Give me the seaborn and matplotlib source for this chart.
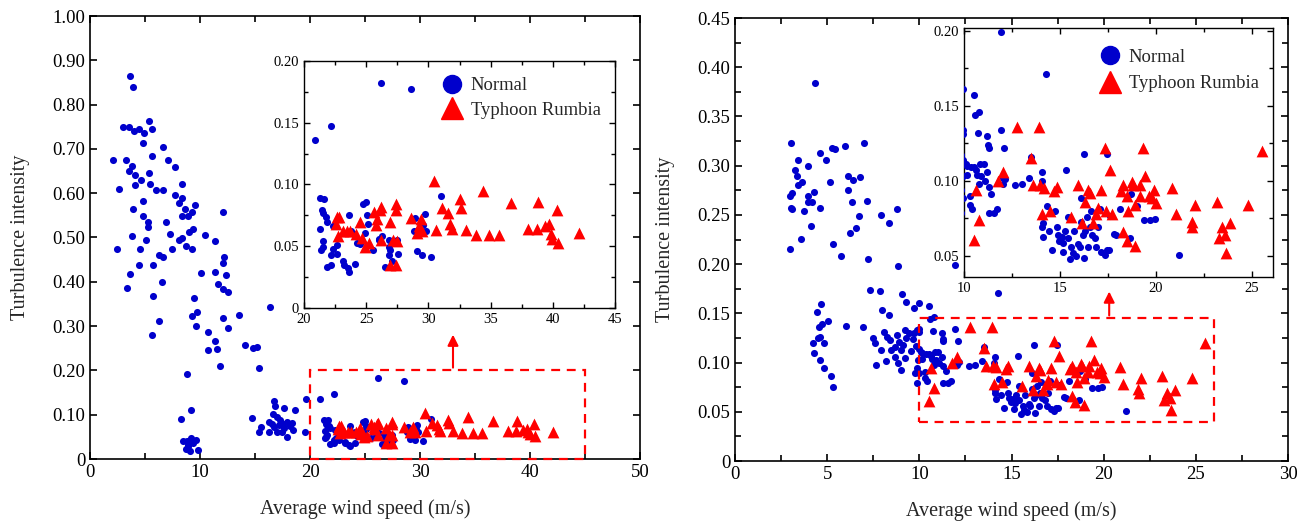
import numpy as np
import pandas as pd
import matplotlib
matplotlib.use("Agg")
import matplotlib.pyplot as plt
import seaborn as sns
from matplotlib.ticker import MultipleLocator, FuncFormatter
from matplotlib.patches import Rectangle
from matplotlib.lines import Line2D

# ---------------- data: left panel ----------------
left_normal_x = [
    3.64, 3.88, 2.97, 3.52, 4.03, 4.48, 4.91, 5.36, 5.6, 4.79, 2.12, 3.3, 5.64, 6.61, 7.09, 7.76,
    3.85, 3.58, 4.06, 5.39, 4.06, 4.64, 5.48, 6.03, 6.61, 8.39, 2.64, 4.79, 7.76, 8.36, 8.09, 9.52,
    8.64, 9.27, 3.94, 4.85, 8.33, 8.88, 12.06, 5.24, 5.27, 6.88, 9.33, 9.03, 3.79, 7.27, 10.42, 5.06,
    8.06, 8.39, 8.7, 9.3, 11.39, 2.48, 4.55, 6.3, 6.67, 7.42, 12.18,
    4.48, 3.67, 3.33, 5.7, 6.52, 10.12, 11.39, 12.09, 12.39, 11.67, 12.09, 12.52, 5.73, 9.45, 13.52,
    9.24, 9.7, 6.24, 9.61, 12.06, 12.52, 10.73, 11.36, 11.55, 10.7, 5.64, 14.12, 14.79, 15.18, 15.33,
    11.85, 16.33, 8.85, 8.3, 9.21, 8.45, 8.79, 9.15, 9.61, 8.94, 9.39, 8.7, 9.09, 9.79, 8.88,
    14.76, 15.55, 15.33, 16.73, 16.82, 17.67, 16.6, 16.24, 16.97, 17.27, 17.58, 17.94, 18.33, 18.6,
    18.48, 17.94, 17.42, 17.03, 16.3, 17.21, 16.76, 17.67, 18.18, 16.52, 19.52, 19.6,
    20.89, 22.16, 26.19, 28.57, 21.27, 21.62, 21.41, 21.54, 21.73, 21.81, 21.32, 22.3, 21.54, 21.49,
    21.4, 22.35, 22.16, 22.68, 22.68, 21.81, 22.19, 23.16, 23.22, 23.57, 23.65, 24.11, 23.65, 23.76,
    24.05, 24.24, 24.51, 24.78, 25.0, 25.05, 25.11, 24.92, 25.54, 26.0, 26.05, 26.27, 26.54, 26.81,
    26.86, 26.95, 26.81, 27.08, 27.57, 27.49, 28.92, 28.84, 29.11, 29.51, 29.73, 29.81, 30.24, 31.03,
    29.6,
]
left_normal_y = [
    0.865, 0.839, 0.749, 0.749, 0.741, 0.746, 0.736, 0.763, 0.746, 0.714, 0.674, 0.675, 0.685, 0.705, 0.675, 0.66,
    0.662, 0.651, 0.64, 0.646, 0.619, 0.63, 0.621, 0.608, 0.607, 0.621, 0.61, 0.583, 0.595, 0.589, 0.577, 0.573,
    0.564, 0.558, 0.564, 0.549, 0.549, 0.549, 0.557, 0.535, 0.524, 0.536, 0.52, 0.513, 0.504, 0.507, 0.505, 0.495,
    0.495, 0.499, 0.481, 0.473, 0.492, 0.474, 0.474, 0.46, 0.457, 0.474, 0.455,
    0.438, 0.418, 0.387, 0.438, 0.40, 0.419, 0.423, 0.442, 0.415, 0.394, 0.384, 0.376, 0.369, 0.364, 0.324,
    0.323, 0.331, 0.312, 0.30, 0.319, 0.295, 0.287, 0.266, 0.248, 0.246, 0.281, 0.257, 0.25, 0.253, 0.205,
    0.211, 0.344, 0.192, 0.09, 0.111, 0.041, 0.041, 0.047, 0.043, 0.032, 0.035, 0.023, 0.018, 0.02, 0.029,
    0.092, 0.073, 0.062, 0.132, 0.12, 0.115, 0.102, 0.084, 0.095, 0.088, 0.08, 0.084, 0.082, 0.11,
    0.065, 0.05, 0.062, 0.062, 0.061, 0.077, 0.073, 0.071, 0.074, 0.08, 0.062, 0.136,
    0.136, 0.147, 0.182, 0.177, 0.089, 0.088, 0.079, 0.077, 0.074, 0.070, 0.064, 0.066, 0.054, 0.049,
    0.047, 0.048, 0.043, 0.051, 0.044, 0.033, 0.035, 0.038, 0.035, 0.032, 0.029, 0.036, 0.075, 0.062,
    0.06, 0.053, 0.052, 0.084, 0.086, 0.075, 0.068, 0.061, 0.047, 0.056, 0.055, 0.058, 0.033, 0.049,
    0.055, 0.047, 0.043, 0.038, 0.044, 0.055, 0.073, 0.062, 0.046, 0.043, 0.076, 0.062, 0.041, 0.091,
    0.067,
]
left_typhoon_x = [
    22.62, 22.84, 22.57, 22.76, 23.11, 23.49, 23.7, 24.16, 24.51, 24.65, 24.92, 25.19, 25.59, 25.78,
    25.86, 26.08, 26.22, 26.19, 26.89, 27.14, 27.43, 27.41, 27.49, 26.89, 27.43, 28.57, 29.38, 29.24,
    29.11, 29.51, 30.41, 30.59, 31.08, 31.59, 31.76, 31.86, 32.57, 32.62, 33.03, 33.84, 34.38, 34.84,
    35.68, 36.62, 38.03, 38.7, 38.78, 39.38, 39.7, 39.86, 39.97, 40.35, 40.41, 42.08,
]
left_typhoon_y = [
    0.074, 0.074, 0.068, 0.058, 0.062, 0.062, 0.062, 0.06, 0.07, 0.057, 0.049, 0.053, 0.078, 0.067,
    0.072, 0.079, 0.082, 0.055, 0.07, 0.055, 0.084, 0.079, 0.054, 0.035, 0.035, 0.073, 0.072, 0.066,
    0.061, 0.062, 0.103, 0.063, 0.081, 0.077, 0.068, 0.064, 0.088, 0.081, 0.063, 0.059, 0.095, 0.059,
    0.059, 0.085, 0.064, 0.064, 0.086, 0.066, 0.068, 0.06, 0.056, 0.079, 0.053, 0.061,
]

# ---------------- data: right panel ----------------
right_normal_x = [
    4.34, 3.04, 7.0, 3.44, 3.26, 3.36, 3.44, 3.65, 3.98, 3.0, 3.1, 3.06, 3.1, 3.73, 3.94, 3.98, 4.18,
    4.27, 4.12, 4.61, 3.58, 3.0, 4.6, 4.94, 5.25, 5.44, 5.97, 5.15, 6.13, 6.42, 6.8, 6.13, 6.33, 7.16,
    6.75, 6.57, 6.24, 5.3, 5.77, 7.94, 8.37, 8.77, 7.23,
    8.86, 7.33, 7.85, 9.08, 9.28, 9.71, 7.99, 8.36, 4.65, 4.43, 5.06, 4.74, 4.57, 6.0, 6.96, 4.61, 4.49,
    4.25, 4.83, 4.29, 4.6, 4.81, 5.21, 5.3, 7.5, 7.59, 7.65, 7.94, 8.08, 8.26, 8.18, 8.41, 8.45, 8.68,
    8.77, 8.92, 8.68, 8.99, 8.83, 8.99, 9.22, 9.26, 9.12, 9.22, 9.44, 9.55, 9.67, 9.73, 9.85, 9.82,
    9.95, 9.86, 9.77, 9.86,
    11.95, 14.28, 9.97, 10.52, 10.57, 10.78, 10.72, 9.97, 9.97, 11.95, 12.09, 11.22, 11.26, 11.29, 13.5,
    9.97, 10.09, 10.17, 10.34, 10.52, 10.64, 10.83, 11.03, 10.69, 10.91, 11.09, 10.14, 10.78, 11.21,
    11.29, 11.43, 10.29, 9.97, 10.31, 10.43, 11.29, 11.55, 11.74, 12.03, 12.16, 12.03, 12.67, 13.02,
    13.4, 14.05, 14.09, 14.31, 14.1, 14.09, 14.14, 14.43, 14.74, 14.57, 14.83, 14.88, 14.97, 15.09,
    15.14, 15.17, 15.26, 15.34, 15.43, 15.4, 15.53, 15.6, 15.69, 15.74, 15.86, 15.95, 16.03, 16.1,
    16.26, 16.21, 16.12, 16.24, 16.33, 16.41, 16.47, 16.55, 16.6, 16.67, 16.81, 16.9, 16.98, 17.07,
    17.16, 17.33, 17.43, 17.53, 17.47, 17.59, 17.93, 18.14, 17.84, 18.71, 18.67, 19.0, 19.36, 19.71,
    19.93, 21.21,
]
right_normal_y = [
    0.384, 0.323, 0.323, 0.306, 0.296, 0.289, 0.280, 0.283, 0.30, 0.269, 0.272, 0.257, 0.256, 0.254,
    0.269, 0.263, 0.263, 0.273, 0.239, 0.257, 0.226, 0.215, 0.313, 0.306, 0.318, 0.317, 0.32, 0.283,
    0.29, 0.285, 0.288, 0.275, 0.263, 0.264, 0.249, 0.237, 0.232, 0.22, 0.208, 0.25, 0.242, 0.256, 0.205,
    0.198, 0.174, 0.173, 0.170, 0.162, 0.155, 0.153, 0.148, 0.159, 0.151, 0.142, 0.139, 0.136, 0.137,
    0.136, 0.126, 0.125, 0.12, 0.12, 0.11, 0.103, 0.094, 0.086, 0.075, 0.125, 0.12, 0.0975, 0.113,
    0.131, 0.126, 0.102, 0.123, 0.113, 0.116, 0.128, 0.121, 0.106, 0.113, 0.100, 0.092, 0.133, 0.125,
    0.118, 0.105, 0.13, 0.112, 0.124, 0.13, 0.133, 0.117, 0.103, 0.094, 0.089, 0.079,
    0.199, 0.171, 0.161, 0.157, 0.144, 0.146, 0.132, 0.134, 0.131, 0.134, 0.122, 0.130, 0.124, 0.122,
    0.116, 0.114, 0.111, 0.11, 0.109, 0.109, 0.107, 0.111, 0.111, 0.104, 0.103, 0.10, 0.104, 0.098,
    0.106, 0.096, 0.091, 0.09, 0.089, 0.084, 0.081, 0.079, 0.079, 0.081, 0.098, 0.101, 0.102, 0.097,
    0.098, 0.102, 0.10, 0.106, 0.083, 0.072, 0.069, 0.063, 0.067, 0.080, 0.054, 0.069, 0.064, 0.06,
    0.063, 0.053, 0.059, 0.067, 0.107, 0.076, 0.062, 0.048, 0.056, 0.052, 0.067, 0.050, 0.058, 0.056,
    0.073, 0.049, 0.064, 0.089, 0.118, 0.067, 0.076, 0.056, 0.069, 0.080, 0.064, 0.062, 0.056, 0.069,
    0.081, 0.053, 0.051, 0.054, 0.054, 0.118, 0.077, 0.064, 0.081, 0.065, 0.091, 0.062, 0.083, 0.074,
    0.074, 0.075, 0.051,
]
right_typhoon_x = [
    12.76, 13.93, 13.5, 12.03, 11.76, 10.62, 10.78, 10.5, 13.62, 13.97, 14.17, 14.05, 14.48, 14.71,
    14.83, 15.57, 15.95, 16.33, 16.48, 16.57, 16.16, 16.72, 16.9, 16.98, 17.12, 17.33, 17.41, 17.59,
    17.69, 18.16, 18.28, 18.5, 18.53, 18.28, 18.47, 18.76, 18.81, 18.91, 18.93, 19.19, 19.17, 19.31,
    19.45, 19.66, 19.78, 19.88, 20.02, 20.86, 21.03, 22.03, 21.86, 21.9, 23.16, 23.28, 23.45, 23.62,
    23.88, 23.66, 24.78, 25.52,
]
right_typhoon_y = [
    0.136, 0.136, 0.115, 0.106, 0.10, 0.094, 0.074, 0.061, 0.097, 0.097, 0.095, 0.078, 0.08, 0.093,
    0.096, 0.076, 0.097, 0.086, 0.094, 0.092, 0.072, 0.072, 0.078, 0.082, 0.094, 0.122, 0.08, 0.107,
    0.078, 0.093, 0.097, 0.09, 0.08, 0.066, 0.06, 0.099, 0.097, 0.084, 0.057, 0.097, 0.09, 0.122,
    0.103, 0.09, 0.089, 0.094, 0.085, 0.095, 0.078, 0.084, 0.073, 0.069, 0.086, 0.062, 0.069, 0.064,
    0.072, 0.052, 0.084, 0.12,
]

series_labels = ["Normal", "Typhoon Rumbia"]

# ---------------- style ----------------
sns.set_style("ticks")
plt.rcParams["font.family"] = ["Liberation Serif", "DejaVu Serif"]
plt.rcParams["xtick.direction"] = "in"
plt.rcParams["ytick.direction"] = "in"

BLUE = "#0000CC"
RED = "#FF0000"
DOT_S = 26
TRI_S = 72

W, H = 1297, 521
fig = plt.figure(figsize=(W / 100, H / 100), dpi=100)


def px_axes(l, r, t, b):
    return fig.add_axes([l / W, 1 - b / H, (r - l) / W, (b - t) / H])


def fmt2(v, pos):
    return "0" if abs(v) < 1e-9 else f"{v:.2f}"


def fmt_int(v, pos):
    return f"{v:g}"


def style(ax, xmaj, xmin, ymaj, ymin, lsize, lw, tl):
    ax.xaxis.set_major_locator(MultipleLocator(xmaj))
    if xmin:
        ax.xaxis.set_minor_locator(MultipleLocator(xmin))
    ax.yaxis.set_major_locator(MultipleLocator(ymaj))
    if ymin:
        ax.yaxis.set_minor_locator(MultipleLocator(ymin))
    ax.yaxis.set_major_formatter(FuncFormatter(fmt2))
    ax.xaxis.set_major_formatter(FuncFormatter(fmt_int))
    ax.tick_params(which="both", direction="in", top=True, right=True, width=lw, colors="black",
                   labelsize=lsize)
    ax.tick_params(which="major", length=tl)
    ax.tick_params(which="minor", length=tl * 0.8)
    for sp in ax.spines.values():
        sp.set_visible(True)
        sp.set_linewidth(lw)
        sp.set_color("black")


def draw_points(ax, nx, ny, tx, ty):
    sns.scatterplot(x=nx, y=ny, ax=ax, color=BLUE, marker="o", s=DOT_S, linewidth=0, legend=False, zorder=3)
    sns.scatterplot(x=tx, y=ty, ax=ax, color=RED, marker="^", s=TRI_S, linewidth=0, legend=False, zorder=4)


def add_legend(ax, bx, by, spacing):
    handles = [
        Line2D([], [], marker="o", color=BLUE, ls="", markersize=13),
        Line2D([], [], marker="^", color=RED, ls="", markersize=16),
    ]
    ax.legend(handles, series_labels, loc="upper left", bbox_to_anchor=(bx, by), frameon=False,
              fontsize=13.4, handlelength=1.6, handletextpad=0.2, borderpad=0, borderaxespad=0,
              labelspacing=spacing)


# ---------------- left panel ----------------
axL = px_axes(90, 640, 16, 459)
draw_points(axL, left_normal_x, left_normal_y, left_typhoon_x, left_typhoon_y)
axL.set_xlim(0, 50)
axL.set_ylim(0, 1.0)
style(axL, 10, 5, 0.1, None, 13.5, 1.2, 5)
axL.set_xlabel("Average wind speed (m/s)", fontsize=14.5, labelpad=13)
axL.set_ylabel("Turbulence intensity", fontsize=14.5, labelpad=16)
axL.add_patch(Rectangle((20, 0), 25, 0.2, fill=False, edgecolor=RED, lw=1.6,
                        linestyle=(0, (4, 3)), zorder=6, clip_on=False))
axL.annotate("", xy=(33, 0.287), xytext=(33, 0.2),
             arrowprops=dict(arrowstyle="-|>", color=RED, lw=1.5, mutation_scale=16), zorder=6)

insL = px_axes(304, 615, 61, 308)
draw_points(insL, left_normal_x, left_normal_y, left_typhoon_x, left_typhoon_y)
insL.set_xlim(20, 45)
insL.set_ylim(0, 0.2)
style(insL, 5, 2.5, 0.05, 0.025, 10.5, 1.0, 4)
insL.set_xlabel("")
insL.set_ylabel("")
insL.set_facecolor("white")
add_legend(insL, 0.428, 0.935, 0.42)

# ---------------- right panel ----------------
axR = px_axes(735, 1288, 18, 461)
draw_points(axR, right_normal_x, right_normal_y, right_typhoon_x, right_typhoon_y)
axR.set_xlim(0, 30)
axR.set_ylim(0, 0.45)
style(axR, 5, 2.5, 0.05, 0.025, 13.5, 1.2, 5)
axR.set_xlabel("Average wind speed (m/s)", fontsize=14.5, labelpad=13)
axR.set_ylabel("Turbulence intensity", fontsize=14.5, labelpad=16)
axR.add_patch(Rectangle((10, 0.04), 16, 0.105, fill=False, edgecolor=RED, lw=1.6,
                        linestyle=(0, (4, 3)), zorder=6, clip_on=False))
axR.annotate("", xy=(20.3, 0.175), xytext=(20.3, 0.145),
             arrowprops=dict(arrowstyle="-|>", color=RED, lw=1.5, mutation_scale=16), zorder=6)

insR = px_axes(964, 1273, 28, 277)
draw_points(insR, right_normal_x, right_normal_y, right_typhoon_x, right_typhoon_y)
insR.set_xlim(10, 26.1)
insR.set_ylim(0.036, 0.202)
style(insR, 5, 2.5, 0.05, 0.025, 10.5, 1.0, 4)
insR.set_xlabel("")
insR.set_ylabel("")
insR.set_facecolor("white")
add_legend(insR, 0.424, 0.917, 0.5)

fig.savefig("out.png", dpi=100)
